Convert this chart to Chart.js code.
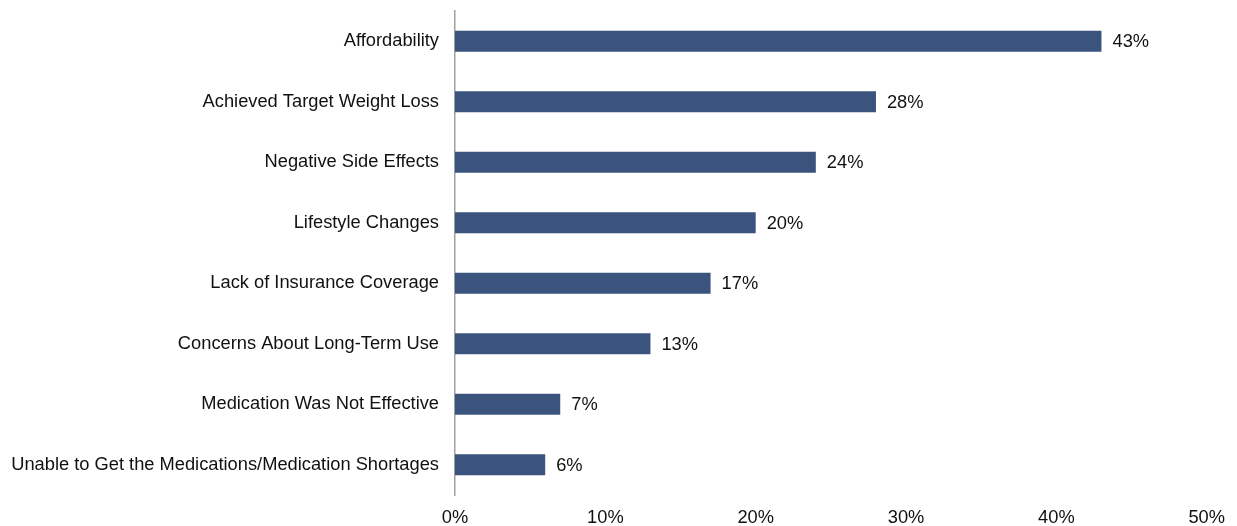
<!DOCTYPE html>
<html>
<head>
<meta charset="utf-8">
<script src="https://cdn.jsdelivr.net/npm/chart.js@4/dist/chart.umd.min.js"></script>
<style>
  html, body { margin: 0; padding: 0; background: #fff; }
  #wrap { width: 1237px; height: 526px; position: relative; }
</style>
</head>
<body>
<div id="wrap"><canvas id="c" width="1237" height="526"></canvas></div>
<script>
const categories = [
  "Affordability",
  "Achieved Target Weight Loss",
  "Negative Side Effects",
  "Lifestyle Changes",
  "Lack of Insurance Coverage",
  "Concerns About Long-Term Use",
  "Medication Was Not Effective",
  "Unable to Get the Medications/Medication Shortages"
];
const values = [43, 28, 24, 20, 17, 13, 7, 6];
const xTicks = [0, 10, 20, 30, 40, 50];

const FONT = "'Liberation Sans', Arial, sans-serif";
const FSIZE = 18.3;

const valueLabels = {
  id: 'valueLabels',
  afterDatasetsDraw(chart) {
    const ctx = chart.ctx;
    const meta = chart.getDatasetMeta(0);
    ctx.save();
    ctx.font = FSIZE + "px " + FONT;
    ctx.fillStyle = "#111";
    ctx.textAlign = "left";
    ctx.textBaseline = "middle";
    meta.data.forEach((bar, i) => {
      ctx.fillText(values[i] + "%", bar.x + 11, bar.y + 1);
    });
    ctx.restore();
  }
};

new Chart(document.getElementById('c'), {
  type: 'bar',
  data: {
    labels: categories,
    datasets: [{
      data: values,
      backgroundColor: '#3A547E',
      borderWidth: 0,
      barPercentage: 0.35,
      categoryPercentage: 1
    }]
  },
  options: {
    indexAxis: 'y',
    responsive: false,
    animation: false,
    devicePixelRatio: 1,
    layout: { padding: { top: 11, right: 30, left: 0, bottom: 0 } },
    plugins: { legend: { display: false }, tooltip: { enabled: false } },
    scales: {
      x: {
        min: 0, max: 50,
        afterBuildTicks(scale) { scale.ticks = xTicks.map(v => ({ value: v })); },
        afterFit(scale) { scale.height = 31; },
        grid: { display: false, drawTicks: false },
        border: { display: false },
        ticks: {
          padding: 12,
          color: '#111',
          font: { family: FONT, size: FSIZE },
          callback: v => v + '%',
          maxRotation: 0
        }
      },
      y: {
        afterFit(scale) { scale.width = 455; scale.paddingTop = 0; scale.paddingBottom = 0; },
        grid: { display: false, drawTicks: false },
        border: { display: true, color: '#a0a0a0', width: 1.5 },
        ticks: {
          padding: 16,
          color: '#111',
          font: { family: FONT, size: FSIZE }
        }
      }
    }
  },
  plugins: [valueLabels]
});
</script>
</body>
</html>
